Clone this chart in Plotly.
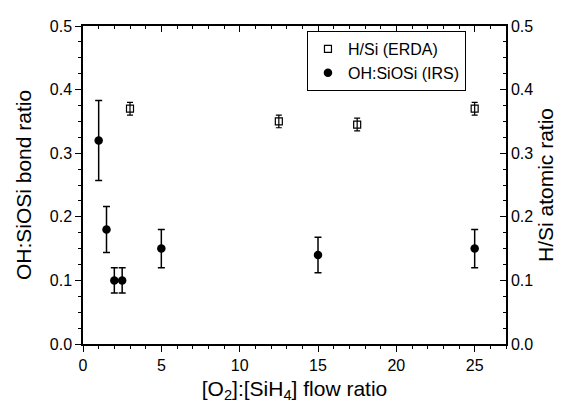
import plotly.graph_objects as go

# OH:SiOSi (IRS) data - left axis
irs_x = [1, 1.5, 2, 2.5, 5, 15, 25]
irs_y = [0.32, 0.18, 0.10, 0.10, 0.15, 0.14, 0.15]
irs_err = [0.063, 0.036, 0.02, 0.02, 0.03, 0.028, 0.03]

# H/Si (ERDA) data - right axis
erda_x = [3, 12.5, 17.5, 25]
erda_y = [0.37, 0.35, 0.345, 0.37]
erda_err = [0.01, 0.01, 0.01, 0.01]

FONT = "Liberation Sans, Arial, sans-serif"

fig = go.Figure()
fig.add_trace(go.Scatter(
    x=erda_x, y=erda_y, mode="markers", name="H/Si (ERDA)", yaxis="y2",
    marker=dict(symbol="square-open", size=7, color="black", line=dict(width=1.2)),
    error_y=dict(type="data", array=erda_err, color="black", thickness=1.2, width=3),
))
fig.add_trace(go.Scatter(
    x=irs_x, y=irs_y, mode="markers", name="OH:SiOSi (IRS)",
    marker=dict(symbol="circle", size=8.5, color="black"),
    error_y=dict(type="data", array=irs_err, color="black", thickness=1.5, width=3.5),
))
# invisible trace to activate top axis
fig.add_trace(go.Scatter(x=[0, 27], y=[0, 0], xaxis="x2", mode="markers",
                         marker=dict(opacity=0), showlegend=False, hoverinfo="skip"))

axis_common = dict(showgrid=False, zeroline=False, showline=True, linecolor="black",
                   linewidth=1.5, tickcolor="black", tickwidth=1.2,
                   tickfont=dict(family=FONT, size=16, color="black"))

# page body has an 8px margin, so the figure is sized to fit the 564x409 window
fig.update_layout(
    width=556, height=401,
    margin=dict(l=75, r=58, t=10, b=65),
    paper_bgcolor="white", plot_bgcolor="white",
    font=dict(family=FONT, color="black"),
    xaxis=dict(range=[0, 27], dtick=5, tick0=0, ticks="outside", ticklen=6,
               minor=dict(dtick=1, ticks="outside", ticklen=3, tickcolor="black"),
               title=dict(text="[O<sub>2</sub>]:[SiH<sub>4</sub>] flow ratio",
                          font=dict(family=FONT, size=21), standoff=8),
               **axis_common),
    xaxis2=dict(range=[0, 27], overlaying="x", side="top", dtick=5, tick0=0,
                ticks="inside", ticklen=6, showticklabels=False,
                minor=dict(dtick=1, ticks="inside", ticklen=3, tickcolor="black"),
                **axis_common),
    yaxis=dict(range=[0, 0.5], dtick=0.1, tickformat=".1f", ticks="outside", ticklen=6,
               minor=dict(dtick=0.025, ticks="outside", ticklen=3, tickcolor="black"),
               title=dict(text="OH:SiOSi bond ratio", font=dict(family=FONT, size=21),
                          standoff=12),
               **axis_common),
    yaxis2=dict(range=[0, 0.5], overlaying="y", side="right", dtick=0.1, tickformat=".1f",
                ticks="inside", ticklen=6,
                minor=dict(dtick=0.025, ticks="inside", ticklen=3, tickcolor="black"),
                title=dict(text="H/Si atomic ratio", font=dict(family=FONT, size=21),
                           standoff=6),
                **axis_common),
    legend=dict(x=0.529, y=0.985, xanchor="left", yanchor="top",
                bordercolor="black", borderwidth=1.2, bgcolor="white",
                font=dict(family=FONT, size=16, color="black"),
                tracegroupgap=0, itemwidth=30),
    showlegend=True,
)

fig.write_html("out.html")
